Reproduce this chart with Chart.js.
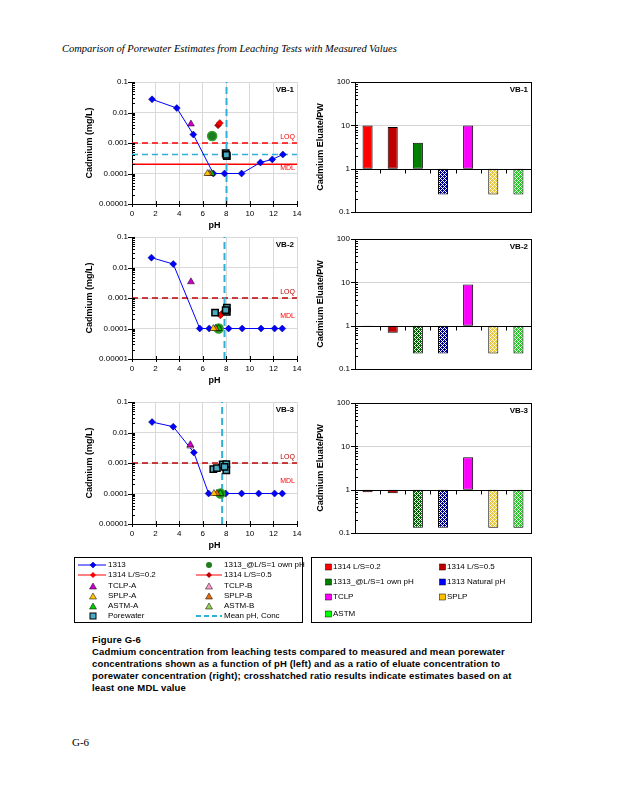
<!DOCTYPE html>
<html>
<head>
<meta charset="utf-8">
<script src="https://cdn.jsdelivr.net/npm/chart.js@4.4.1/dist/chart.umd.min.js"></script>
<style>
  body { margin: 0; width: 618px; height: 800px; background: #fff; position: relative; font-family: "Liberation Sans", Arial, sans-serif; }
  .abs { position: absolute; }
  .header { left: 62px; top: 43px; font: italic 10.5px "Liberation Serif", serif; white-space: nowrap; }
  .caption { left: 92px; top: 634px; font: bold 9.5px "Liberation Sans", Arial, sans-serif; letter-spacing: 0.15px; line-height: 12px; white-space: nowrap; }
  .footer { left: 72px; top: 736px; font: 11px "Liberation Serif", serif; }
  .lbox { position: absolute; border: 1px solid #000; box-sizing: border-box; }
  .lg { position: absolute; height: 10px; font-size: 8px; line-height: 10px; white-space: nowrap; }
  .lg svg { position: absolute; top: 0; }
  .lg span { position: absolute; top: 0; }
</style>
</head>
<body>
<div class="abs header">Comparison of Porewater Estimates from Leaching Tests with Measured Values</div>

<div class="abs" style="left:80px;top:72px"><canvas id="conc1" width="230" height="161"></canvas></div>
<div class="abs" style="left:305px;top:72px"><canvas id="ratio1" width="235" height="150"></canvas></div>
<div class="abs" style="left:80px;top:227px"><canvas id="conc2" width="230" height="161"></canvas></div>
<div class="abs" style="left:305px;top:229px"><canvas id="ratio2" width="235" height="150"></canvas></div>
<div class="abs" style="left:80px;top:392px"><canvas id="conc3" width="230" height="161"></canvas></div>
<div class="abs" style="left:305px;top:393px"><canvas id="ratio3" width="235" height="150"></canvas></div>

<!-- legend, left panels -->
<div class="lbox" style="left:74px;top:557px;width:229px;height:66px">
  <div class="lg" style="left:0;top:2px"><svg width="34" height="10"><line x1="3" y1="5" x2="31" y2="5" stroke="#0000FF" stroke-width="1"/><polygon points="18,2 21,5 18,8 15,5" fill="#0000FF" stroke="#000080" stroke-width="0.5"/></svg><span style="left:33px">1313</span></div>
  <div class="lg" style="left:118px;top:2px"><svg width="34" height="10"><circle cx="16" cy="5" r="3" fill="#1E7B1E"/></svg><span style="left:31px">1313_@L/S=1 own pH</span></div>
  <div class="lg" style="left:0;top:12px"><svg width="34" height="10"><line x1="3" y1="5" x2="31" y2="5" stroke="#FF0000" stroke-width="1"/><polygon points="18,2 21,5 18,8 15,5" fill="#FF0000"/></svg><span style="left:33px">1314 L/S=0.2</span></div>
  <div class="lg" style="left:118px;top:12px"><svg width="34" height="10"><line x1="3" y1="5" x2="29" y2="5" stroke="#FF0000" stroke-width="1"/><polygon points="16,2 19,5 16,8 13,5" fill="#C00000"/></svg><span style="left:31px">1314 L/S=0.5</span></div>
  <div class="lg" style="left:0;top:23px"><svg width="34" height="10"><polygon points="18,2 21.5,8 14.5,8" fill="#CC00CC" stroke="#000" stroke-width="0.5"/></svg><span style="left:33px">TCLP-A</span></div>
  <div class="lg" style="left:118px;top:23px"><svg width="34" height="10"><polygon points="16,2 19.5,8 12.5,8" fill="#FF99CC" stroke="#000" stroke-width="0.5"/></svg><span style="left:31px">TCLP-B</span></div>
  <div class="lg" style="left:0;top:33px"><svg width="34" height="10"><polygon points="18,2 21.5,8 14.5,8" fill="#FFC000" stroke="#000" stroke-width="0.5"/></svg><span style="left:33px">SPLP-A</span></div>
  <div class="lg" style="left:118px;top:33px"><svg width="34" height="10"><polygon points="16,2 19.5,8 12.5,8" fill="#E46C0A" stroke="#000" stroke-width="0.5"/></svg><span style="left:31px">SPLP-B</span></div>
  <div class="lg" style="left:0;top:43px"><svg width="34" height="10"><polygon points="18,2 21.5,8 14.5,8" fill="#00CC00" stroke="#000" stroke-width="0.5"/></svg><span style="left:33px">ASTM-A</span></div>
  <div class="lg" style="left:118px;top:43px"><svg width="34" height="10"><polygon points="16,2 19.5,8 12.5,8" fill="#92D050" stroke="#000" stroke-width="0.5"/></svg><span style="left:31px">ASTM-B</span></div>
  <div class="lg" style="left:0;top:53px"><svg width="34" height="10"><rect x="15" y="2" width="6" height="6" fill="#4BACC6" stroke="#000" stroke-width="1"/></svg><span style="left:33px">Porewater</span></div>
  <div class="lg" style="left:118px;top:53px"><svg width="34" height="10"><line x1="3" y1="5" x2="29" y2="5" stroke="#2FB0D8" stroke-width="2" stroke-dasharray="5,3"/></svg><span style="left:31px">Mean pH, Conc</span></div>
</div>

<!-- legend, ratio panels -->
<div class="lbox" style="left:311px;top:557px;width:221px;height:66px">
  <div class="lg" style="left:13px;top:4px"><svg width="8" height="10"><rect x="0.5" y="2" width="6" height="6" fill="#FF0000" stroke="#000" stroke-width="0.5"/></svg><span style="left:8px">1314 L/S=0.2</span></div>
  <div class="lg" style="left:127px;top:4px"><svg width="8" height="10"><rect x="0.5" y="2" width="6" height="6" fill="#C00000" stroke="#000" stroke-width="0.5"/></svg><span style="left:8px">1314 L/S=0.5</span></div>
  <div class="lg" style="left:13px;top:19px"><svg width="8" height="10"><rect x="0.5" y="2" width="6" height="6" fill="#008000" stroke="#000" stroke-width="0.5"/></svg><span style="left:8px">1313_@L/S=1 own pH</span></div>
  <div class="lg" style="left:127px;top:19px"><svg width="8" height="10"><rect x="0.5" y="2" width="6" height="6" fill="#0000FF" stroke="#000" stroke-width="0.5"/></svg><span style="left:8px">1313 Natural pH</span></div>
  <div class="lg" style="left:13px;top:34px"><svg width="8" height="10"><rect x="0.5" y="2" width="6" height="6" fill="#FF00FF" stroke="#000" stroke-width="0.5"/></svg><span style="left:8px">TCLP</span></div>
  <div class="lg" style="left:127px;top:34px"><svg width="8" height="10"><rect x="0.5" y="2" width="6" height="6" fill="#FFC000" stroke="#000" stroke-width="0.5"/></svg><span style="left:8px">SPLP</span></div>
  <div class="lg" style="left:13px;top:51px"><svg width="8" height="10"><rect x="0.5" y="2" width="6" height="6" fill="#00FF00" stroke="#000" stroke-width="0.5"/></svg><span style="left:8px">ASTM</span></div>
</div>

<div class="abs caption">Figure G-6<br>Cadmium concentration from leaching tests compared to measured and mean porewater<br>concentrations shown as a function of pH (left) and as a ratio of eluate concentration to<br>porewater concentration (right); crosshatched ratio results indicate estimates based on at<br>least one MDL value</div>
<div class="abs footer">G-6</div>

<script>
        // Axis ticks
        const phTicks = [0, 2, 4, 6, 8, 10, 12, 14];
        const concTicks = [0.1, 0.01, 0.001, 0.0001, 0.00001];
        const concTickLabels = ['0.1', '0.01', '0.001', '0.0001', '0.00001'];
        const ratioTicks = [100, 10, 1, 0.1];
        const ratioTickLabels = ['100', '10', '1', '0.1'];
        const ratioCategories = ['1314 L/S=0.2', '1314 L/S=0.5', '1313_@L/S=1 own pH', '1313 Natural pH', 'TCLP', 'SPLP', 'ASTM'];

        // VB-1  (pH, Cd mg/L)
        const vb1Ph1313 = [1.7, 3.8, 5.2, 6.9, 7.85, 9.3, 10.9, 11.9, 12.8];
        const vb1Cd1313 = [0.027, 0.014, 0.0019, 0.0001, 0.0001, 0.0001, 0.00023, 0.00029, 0.00042];
        const vb1OwnPh = [[6.8, 0.0017]];
        const vb1L02 = [[7.45, 0.0045]];
        const vb1L05 = [[7.3, 0.0038]];
        const vb1TclpA = [[5.0, 0.0042]];
        const vb1TclpB = [];
        const vb1SplpA = [[6.4, 0.0001]];
        const vb1SplpB = [[6.55, 0.0001]];
        const vb1AstmA = [[6.75, 0.0001]];
        const vb1AstmB = [];
        const vb1Pore = [[7.95, 0.00046], [8.05, 0.00037], [8.0, 0.00041]];
        const vb1Mean = [8.02, 0.00042];
        const vb1Loq = 0.001, vb1Mdl = 0.0002;
        const vb1Ratio = [10, 9.2, 4.0, 0.255, 10, 0.255, 0.255];
        const vb1Hatched = [false, false, false, true, false, true, true];

        // VB-2
        const vb2Ph1313 = [1.65, 3.5, 5.75, 6.55, 7.35, 8.2, 9.35, 10.95, 12.1, 12.75];
        const vb2Cd1313 = [0.021, 0.013, 0.0001, 0.0001, 0.0001, 0.0001, 0.0001, 0.0001, 0.0001, 0.0001];
        const vb2OwnPh = [[7.35, 0.0001]];
        const vb2L02 = [[7.5, 0.00027]];
        const vb2L05 = [[7.6, 0.0003]];
        const vb2TclpA = [[5.0, 0.0034]];
        const vb2TclpB = [];
        const vb2SplpA = [[6.9, 0.0001]];
        const vb2SplpB = [[7.1, 0.0001]];
        const vb2AstmA = [[7.35, 0.0001]];
        const vb2AstmB = [];
        const vb2Pore = [[7.05, 0.00033], [8.05, 0.00048], [8.05, 0.00035], [7.95, 0.0004]];
        const vb2Mean = [7.85, null];
        const vb2Loq = 0.001, vb2Mdl = null;
        const vb2Ratio = [0.94, 0.69, 0.23, 0.23, 8.9, 0.23, 0.23];
        const vb2Hatched = [false, false, true, true, false, true, true];

        // VB-3
        const vb3Ph1313 = [1.7, 3.5, 5.25, 6.5, 7.95, 9.3, 10.75, 12.1, 12.75];
        const vb3Cd1313 = [0.022, 0.0155, 0.0022, 0.0001, 0.0001, 0.0001, 0.0001, 0.0001, 0.0001];
        const vb3OwnPh = [[7.5, 0.0001]];
        const vb3L02 = [[7.6, 0.0009]];
        const vb3L05 = [[7.7, 0.0008]];
        const vb3TclpA = [[4.95, 0.004]];
        const vb3TclpB = [[4.95, 0.0036]];
        const vb3SplpA = [[6.95, 0.0001]];
        const vb3SplpB = [[7.2, 0.0001]];
        const vb3AstmA = [[7.5, 0.0001]];
        const vb3AstmB = [];
        const vb3Pore = [[6.9, 0.00063], [7.2, 0.00068], [7.7, 0.0009], [8.0, 0.00092], [8.0, 0.00058], [7.85, 0.00075]];
        const vb3Mean = [7.65, null];
        const vb3Loq = 0.001, vb3Mdl = null;
        const vb3Ratio = [0.88, 0.83, 0.134, 0.134, 5.66, 0.134, 0.134];
        const vb3Hatched = [false, false, true, true, false, true, true];

        const FONT = '"Liberation Sans", Arial, sans-serif';
        Chart.defaults.font.family = FONT;
        Chart.defaults.color = '#000';
        Chart.defaults.animation = false;
        Chart.defaults.plugins.legend.display = false;
        Chart.defaults.plugins.tooltip.enabled = false;

        const pts = list => list.map(([x, y]) => ({ x, y }));

        // minor ticks on a log axis, inside the plot
        function logTicks(ctx, y, a) {
            ctx.strokeStyle = '#000';
            ctx.lineWidth = 1;
            const lo = Math.round(Math.log10(y.min)), hi = Math.round(Math.log10(y.max));
            for (let e = lo; e <= hi; e++) {
                for (let m = 1; m <= 9; m++) {
                    if (e === hi && m > 1) break;
                    const py = Math.round(y.getPixelForValue(m * Math.pow(10, e))) + 0.5;
                    ctx.beginPath();
                    ctx.moveTo(a.left - (m === 1 ? 4 : 0), py);
                    ctx.lineTo(a.left + 3, py);
                    ctx.stroke();
                }
            }
        }

        const concDecor = {
            id: 'concDecor',
            afterDraw(chart, args, o) {
                const { ctx, chartArea: a, scales: { x, y } } = chart;
                ctx.save();
                logTicks(ctx, y, a);
                phTicks.forEach(v => {
                    const px = Math.round(x.getPixelForValue(v)) + 0.5;
                    ctx.beginPath();
                    ctx.moveTo(px, a.bottom - 3);
                    ctx.lineTo(px, a.bottom + 3);
                    ctx.stroke();
                });
                ctx.fillStyle = '#000';
                ctx.font = 'bold 8px ' + FONT;
                ctx.textAlign = 'right';
                ctx.textBaseline = 'top';
                ctx.fillText(o.name, a.right - 3, a.top + 4);
                ctx.font = '7px ' + FONT;
                ctx.fillStyle = o.loqColor;
                ctx.textBaseline = 'bottom';
                ctx.fillText('LOQ', a.right - 2, y.getPixelForValue(o.loq) - 2);
                ctx.fillStyle = '#FF0000';
                ctx.textBaseline = 'middle';
                ctx.fillText('MDL', a.right - 2, y.getPixelForValue(o.mdlLabel));
                ctx.restore();
            }
        };

        function marker(label, list, style, fill, border, r, bw) {
            return {
                label, data: pts(list), pointStyle: style, pointRadius: r,
                pointBackgroundColor: fill, pointBorderColor: border, pointBorderWidth: bw,
                showLine: false, order: 1
            };
        }

        function concChart(id, name, ph, cd, own, l02, l05, tA, tB, sA, sB, aA, aB, pore, mean, loq, mdl, mdlLabel) {
            const yMin = concTicks[concTicks.length - 1], yMax = concTicks[0];
            const loqColor = mdl ? '#FF0000' : '#C00000';
            const datasets = [
                { label: 'LOQ', data: [{ x: phTicks[0], y: loq }, { x: phTicks[phTicks.length - 1], y: loq }], showLine: true,
                  borderColor: loqColor, borderWidth: 1.5, borderDash: [6, 4], pointRadius: 0, order: 9 },
                { label: 'Mean pH', data: [{ x: mean[0], y: yMin }, { x: mean[0], y: yMax }], showLine: true,
                  borderColor: '#2FB0D8', borderWidth: 2, borderDash: [7, 4], pointRadius: 0, order: 8 },
                { label: '1313', data: ph.map((v, i) => ({ x: v, y: cd[i] })), showLine: true, borderColor: '#0000FF', borderWidth: 1,
                  pointStyle: 'rectRot', pointRadius: 3.5, pointBackgroundColor: '#0000FF', pointBorderColor: '#000080', pointBorderWidth: 0.5, order: 3 },
                marker('Porewater', pore, 'rect', '#4BACC6', '#000', 4.5, 1.5),
                marker('1314 L/S=0.2', l02, 'rectRot', '#FF0000', '#800000', 3.5, 0.5),
                marker('1314 L/S=0.5', l05, 'rectRot', '#C00000', '#600000', 3.5, 0.5),
                marker('TCLP-A', tA, 'triangle', '#CC00CC', '#000', 4, 0.5),
                marker('TCLP-B', tB, 'triangle', '#FF99CC', '#000', 4, 0.5),
                marker('SPLP-A', sA, 'triangle', '#FFC000', '#000', 4, 0.5),
                marker('SPLP-B', sB, 'triangle', '#E46C0A', '#000', 4, 0.5),
                marker('ASTM-A', aA, 'triangle', '#00CC00', '#000', 4, 0.5),
                marker('ASTM-B', aB, 'triangle', '#92D050', '#000', 4, 0.5),
                marker('1313_@L/S=1 own pH', own, 'circle', '#1E7B1E', '#2CA02C', 4.5, 1.5)
            ];
            if (mdl) datasets.push({ label: 'MDL', data: [{ x: phTicks[0], y: mdl }, { x: phTicks[phTicks.length - 1], y: mdl }], showLine: true,
                borderColor: '#FF0000', borderWidth: 1.5, pointRadius: 0, order: 9 });
            if (mean[1]) datasets.push({ label: 'Mean Conc', data: [{ x: phTicks[0], y: mean[1] }, { x: phTicks[phTicks.length - 1], y: mean[1] }], showLine: true,
                borderColor: '#2FB0D8', borderWidth: 1.5, borderDash: [6, 4], pointRadius: 0, order: 8 });

            new Chart(document.getElementById(id), {
                type: 'scatter',
                data: { datasets },
                plugins: [concDecor],
                options: {
                    responsive: false,
                    layout: { padding: { top: 10, right: 13, bottom: 0, left: 0 } },
                    plugins: { concDecor: { name, loq, loqColor, mdlLabel } },
                    scales: {
                        x: {
                            type: 'linear', min: phTicks[0], max: phTicks[phTicks.length - 1],
                            afterBuildTicks: s => { s.ticks = phTicks.map(v => ({ value: v })); },
                            afterFit: s => { s.height = 29; },
                            grid: { color: '#d9d9d9', drawTicks: false },
                            border: { color: '#000' },
                            ticks: { font: { size: 8 }, padding: 5, autoSkip: false, maxRotation: 0 },
                            title: { display: true, text: 'pH', font: { size: 9, weight: 'bold' }, padding: { top: 0, bottom: 2 } }
                        },
                        y: {
                            type: 'logarithmic', min: yMin, max: yMax,
                            afterBuildTicks: s => { s.ticks = concTicks.map(v => ({ value: v })); },
                            afterFit: s => { s.width = 52; },
                            grid: { color: '#d9d9d9', drawTicks: false },
                            border: { color: '#000' },
                            ticks: { font: { size: 8 }, padding: 4, autoSkip: false, callback: v => concTickLabels[concTicks.indexOf(v)] },
                            title: { display: true, text: 'Cadmium (mg/L)', font: { size: 9, weight: 'bold' }, padding: { top: 4, bottom: 0 } }
                        }
                    }
                }
            });
        }

        // checker fill for ratios based on an MDL value
        function hatch(color) {
            const c = document.createElement('canvas');
            c.width = c.height = 4;
            const g = c.getContext('2d');
            g.fillStyle = '#fff';
            g.fillRect(0, 0, 4, 4);
            g.fillStyle = color;
            for (let yy = 0; yy < 4; yy++) {
                for (let xx = 0; xx < 4; xx++) {
                    if ((xx + yy) % 2 === 0 || (xx === 3 && yy === 0) || (xx === 1 && yy === 2)) g.fillRect(xx, yy, 1, 1);
                }
            }
            return g.createPattern(c, 'repeat');
        }

        const barSolid = ['#FF0000', '#C00000', '#008000', '#0000FF', '#FF00FF', '#FFC000', '#00FF00'];
        const barHatch = ['#FF0000', '#C00000', '#006400', '#000099', '#FF00FF', '#E8C440', '#22CC22'];

        const ratioDecor = {
            id: 'ratioDecor',
            afterDatasetsDraw(chart, args, o) {
                const { ctx, chartArea: a, scales: { x, y } } = chart;
                ctx.save();
                ctx.strokeStyle = '#000';
                ctx.lineWidth = 1;
                const L = Math.round(a.left) + 0.5, T = Math.round(a.top) + 0.5;
                ctx.strokeRect(L, T, Math.round(a.right) - Math.round(a.left), Math.round(a.bottom) - Math.round(a.top));
                const py = Math.round(y.getPixelForValue(1)) + 0.5;
                ctx.beginPath();
                ctx.moveTo(a.left, py);
                ctx.lineTo(a.right, py);
                ctx.stroke();
                for (let i = 0; i <= ratioCategories.length; i++) {
                    const px = Math.round(x.getPixelForValue(i - 0.5)) + 0.5;
                    ctx.beginPath();
                    ctx.moveTo(px, py);
                    ctx.lineTo(px, py + 4);
                    ctx.stroke();
                }
                logTicks(ctx, y, a);
                ctx.fillStyle = '#000';
                ctx.font = 'bold 8px ' + FONT;
                ctx.textAlign = 'right';
                ctx.textBaseline = 'top';
                ctx.fillText(o.name, a.right - 3, a.top + 4);
                ctx.restore();
            }
        };

        function ratioChart(id, name, ratio, hatched) {
            new Chart(document.getElementById(id), {
                type: 'bar',
                data: {
                    labels: ratioCategories,
                    datasets: [{
                        data: ratio.map(v => [1, v]),
                        backgroundColor: ratio.map((v, i) => hatched[i] ? hatch(barHatch[i]) : barSolid[i]),
                        borderColor: '#000',
                        borderWidth: 1,
                        borderSkipped: false,
                        barPercentage: 0.4,
                        categoryPercentage: 1
                    }]
                },
                plugins: [ratioDecor],
                options: {
                    responsive: false,
                    layout: { padding: { top: 10, right: 9, bottom: 7, left: 0 } },
                    plugins: { ratioDecor: { name } },
                    scales: {
                        x: { display: false, offset: true },
                        y: {
                            type: 'logarithmic', min: ratioTicks[ratioTicks.length - 1], max: ratioTicks[0],
                            afterBuildTicks: s => { s.ticks = ratioTicks.map(v => ({ value: v })); },
                            afterFit: s => { s.width = 50; },
                            grid: { color: c => (c.tick && c.tick.value === 10) ? '#d4d4d4' : 'rgba(0,0,0,0)', drawTicks: false },
                            border: { display: false },
                            ticks: { font: { size: 8 }, padding: 5, autoSkip: false, callback: v => ratioTickLabels[ratioTicks.indexOf(v)] },
                            title: { display: true, text: 'Cadmium Eluate/PW', font: { size: 9, weight: 'bold' }, padding: { top: 10, bottom: 0 } }
                        }
                    }
                }
            });
        }

        concChart('conc1', 'VB-1', vb1Ph1313, vb1Cd1313, vb1OwnPh, vb1L02, vb1L05, vb1TclpA, vb1TclpB, vb1SplpA, vb1SplpB, vb1AstmA, vb1AstmB, vb1Pore, vb1Mean, vb1Loq, vb1Mdl, 0.00015);
        concChart('conc2', 'VB-2', vb2Ph1313, vb2Cd1313, vb2OwnPh, vb2L02, vb2L05, vb2TclpA, vb2TclpB, vb2SplpA, vb2SplpB, vb2AstmA, vb2AstmB, vb2Pore, vb2Mean, vb2Loq, vb2Mdl, 0.00026);
        concChart('conc3', 'VB-3', vb3Ph1313, vb3Cd1313, vb3OwnPh, vb3L02, vb3L05, vb3TclpA, vb3TclpB, vb3SplpA, vb3SplpB, vb3AstmA, vb3AstmB, vb3Pore, vb3Mean, vb3Loq, vb3Mdl, 0.00026);

        ratioChart('ratio1', 'VB-1', vb1Ratio, vb1Hatched);
        ratioChart('ratio2', 'VB-2', vb2Ratio, vb2Hatched);
        ratioChart('ratio3', 'VB-3', vb3Ratio, vb3Hatched);
</script>
</body>
</html>
